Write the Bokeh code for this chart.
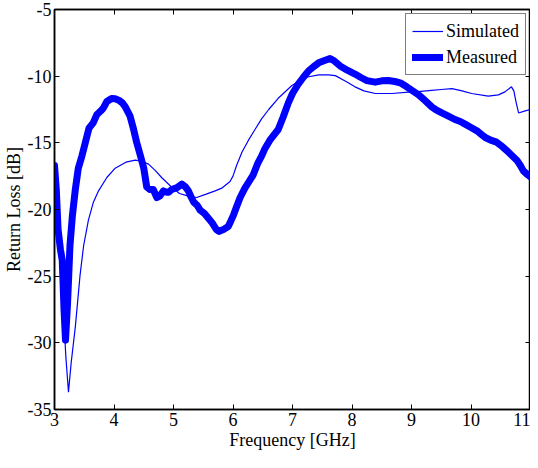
from bokeh.plotting import figure
from bokeh.models import FixedTicker, LinearAxis, Range1d, Legend, LegendItem
from bokeh.embed import file_html
from bokeh.resources import INLINE

# ---- data ----
sim_freq = [3.00, 3.05, 3.10, 3.15, 3.19, 3.235, 3.28, 3.35, 3.43, 3.49, 3.57, 3.65, 3.74,
            3.88, 4.02, 4.20, 4.36, 4.48, 4.58, 4.70, 4.80, 4.94, 5.10, 5.25, 5.39, 5.55,
            5.70, 5.81, 5.95, 6.00, 6.06, 6.15, 6.26, 6.37, 6.48, 6.60, 6.76, 6.99, 7.21,
            7.44, 7.60, 7.72, 7.90, 8.05, 8.20, 8.39, 8.67, 8.95, 9.06, 9.34, 9.50, 9.68,
            9.85, 10.01, 10.29, 10.46, 10.57, 10.68, 10.72, 10.76, 10.80, 10.91, 11.00]
sim_rl = [-17.5, -19.5, -23.0, -27.5, -31.0, -33.7, -31.5, -28.8, -24.9, -22.7, -20.8, -19.5, -18.6,
          -17.6, -16.9, -16.45, -16.3, -16.4, -16.6, -17.1, -17.6, -18.2, -18.8, -19.0, -19.1, -18.85,
          -18.6, -18.4, -17.9, -17.5, -16.7, -15.7, -14.8, -14.0, -13.2, -12.5, -11.66, -10.7, -10.1,
          -9.9, -9.9, -9.96, -10.4, -10.8, -11.1, -11.3, -11.3, -11.2, -11.18, -11.06, -11.0, -10.94,
          -11.1, -11.3, -11.5, -11.4, -11.18, -10.8, -11.1, -12.0, -12.76, -12.6, -12.5]

meas_freq = [3.00, 3.03, 3.06, 3.10, 3.13, 3.16, 3.185, 3.22, 3.26, 3.30, 3.35, 3.40, 3.46,
             3.52, 3.58, 3.65, 3.71, 3.78, 3.82, 3.88, 3.96, 4.02, 4.08, 4.14, 4.19, 4.27,
             4.33, 4.38, 4.44, 4.50, 4.55, 4.60, 4.66, 4.72, 4.77, 4.83, 4.88, 4.92, 4.97,
             5.06, 5.14, 5.20, 5.25, 5.30, 5.34, 5.40, 5.45, 5.52, 5.59, 5.65, 5.72, 5.76,
             5.84, 5.92, 5.96, 6.01, 6.06, 6.12, 6.20, 6.27, 6.34, 6.42, 6.48, 6.54, 6.62,
             6.76, 6.84, 6.93, 7.00, 7.10, 7.18, 7.27, 7.35, 7.44, 7.55, 7.63, 7.70, 7.80,
             7.92, 8.05, 8.15, 8.25, 8.39, 8.50, 8.61, 8.72, 8.81, 8.92, 9.02, 9.12, 9.22,
             9.34, 9.42, 9.51, 9.62, 9.73, 9.82, 9.90, 10.00, 10.10, 10.17, 10.24, 10.33,
             10.43, 10.53, 10.63, 10.70, 10.77, 10.83, 10.88, 10.94, 11.00]
meas_rl = [-16.7, -18.5, -21.5, -23.0, -23.8, -27.5, -29.8, -27.0, -22.7, -20.5, -18.5, -16.9, -16.0,
           -14.95, -13.9, -13.5, -12.9, -12.6, -12.4, -11.9, -11.67, -11.7, -11.8, -12.0, -12.3, -13.0,
           -14.0, -14.95, -15.9, -16.9, -18.3, -18.5, -18.5, -19.1, -19.0, -18.6, -18.7, -18.7, -18.5,
           -18.36, -18.1, -18.3, -18.6, -19.1, -19.45, -19.7, -20.06, -20.3, -20.67, -21.0, -21.5, -21.64,
           -21.5, -21.28, -20.9, -20.4, -19.8, -19.1, -18.4, -17.9, -17.4, -16.5, -16.0, -15.4, -14.8,
           -14.0, -13.1, -12.0, -11.3, -10.57, -10.1, -9.6, -9.3, -9.0, -8.8, -8.67, -8.85, -9.23,
           -9.55, -9.84, -10.1, -10.33, -10.45, -10.35, -10.33, -10.4, -10.5, -10.8, -11.1, -11.4, -11.8,
           -12.3, -12.55, -12.76, -13.0, -13.25, -13.4, -13.6, -13.85, -14.1, -14.35, -14.6, -14.8,
           -14.95, -15.3, -15.7, -16.0, -16.3, -16.7, -17.1, -17.35, -17.55]

x_ticks = [3, 4, 5, 6, 7, 8, 9, 10, 11]
x_tick_labels = ["3", "4", "5", "6", "7", "8", "9", "10", "11"]
y_ticks = [-35, -30, -25, -20, -15, -10, -5]
y_tick_labels = ["-35", "-30", "-25", "-20", "-15", "-10", "-5"]

series_names = ["Simulated", "Measured"]
x_title = "Frequency [GHz]"
y_title = "Return Loss [dB]"

FONT = "Liberation Serif"
BLUE = "#0000FF"

p = figure(width=530, height=452,
           x_range=Range1d(3, 11), y_range=Range1d(-35, -5),
           output_backend="svg", toolbar_location=None,
           min_border_left=49, min_border_right=0, min_border_top=9, min_border_bottom=40,
           background_fill_color="white", border_fill_color="white")
p.xgrid.visible = False
p.ygrid.visible = False
p.outline_line_color = "black"
p.outline_line_width = 1.5

p.xaxis.ticker = FixedTicker(ticks=x_ticks)
p.yaxis.ticker = FixedTicker(ticks=y_ticks)
p.xaxis.major_label_overrides = {t: s for t, s in zip(x_ticks, x_tick_labels)}
p.yaxis.major_label_overrides = {t: s for t, s in zip(y_ticks, y_tick_labels)}
p.xaxis.axis_label = x_title
p.yaxis.axis_label = y_title

for ax in (p.xaxis[0], p.yaxis[0]):
    ax.axis_line_color = "black"
    ax.axis_line_width = 1.5
    ax.major_tick_in = 5
    ax.major_tick_out = 0
    ax.minor_tick_in = 0
    ax.minor_tick_out = 0
    ax.major_tick_line_color = "black"
    ax.major_label_text_font = FONT
    ax.major_label_text_font_size = "18px"
    ax.major_label_text_color = "black"
    ax.axis_label_text_font = FONT
    ax.axis_label_text_font_size = "18px"
    ax.axis_label_text_font_style = "normal"
    ax.axis_label_text_color = "black"
    ax.major_label_standoff = 3
    ax.axis_label_standoff = 1

# mirrored ticks on top and right (no labels)
top_ax = LinearAxis(ticker=FixedTicker(ticks=x_ticks),
                    major_label_overrides={t: "" for t in x_ticks})
right_ax = LinearAxis(ticker=FixedTicker(ticks=y_ticks),
                      major_label_overrides={t: "" for t in y_ticks})
for ax in (top_ax, right_ax):
    ax.axis_line_color = "black"
    ax.axis_line_width = 1.5
    ax.major_tick_in = 5
    ax.major_tick_out = 0
    ax.minor_tick_in = 0
    ax.minor_tick_out = 0
    ax.major_label_text_font_size = "0px"
    ax.major_label_standoff = 0
p.add_layout(top_ax, "above")
p.add_layout(right_ax, "right")

r_sim = p.line(sim_freq, sim_rl, line_color=BLUE, line_width=1.2)
r_meas = p.line(meas_freq, meas_rl, line_color=BLUE, line_width=7,
                line_join="round", line_cap="round")

legend = Legend(items=[LegendItem(label=series_names[0], renderers=[r_sim]),
                       LegendItem(label=series_names[1], renderers=[r_meas])],
                location="top_right")
legend.border_line_color = "black"
legend.border_line_width = 1.5
legend.background_fill_color = "white"
legend.background_fill_alpha = 1.0
legend.label_text_font = FONT
legend.label_text_font_size = "18px"
legend.label_text_color = "black"
legend.glyph_width = 31
legend.glyph_height = 22
legend.label_height = 22
legend.spacing = 4
legend.padding = 6
legend.margin = 4
legend.label_standoff = 3
p.add_layout(legend)

open("out.html", "w").write(file_html(p, INLINE))
